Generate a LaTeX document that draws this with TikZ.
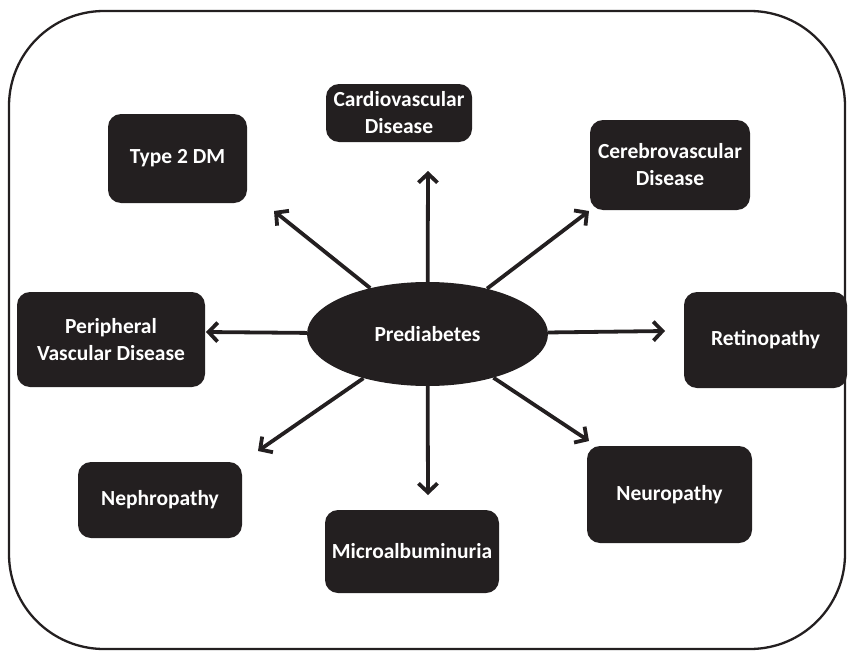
\documentclass[tikz,border=0pt]{standalone}
\usepackage{fontspec}
\setmainfont{Carlito}
\usetikzlibrary{arrows.meta,shapes.geometric}
\definecolor{boxfill}{RGB}{35,31,32}
\begin{document}
\begin{tikzpicture}[x=1pt,y=-1pt,
  box/.style={draw=none,fill=boxfill,rounded corners=13pt,text=white,font=\fontsize{21.5}{27}\selectfont\bfseries,align=center,inner sep=0pt},
  arr/.style={draw=boxfill,line width=3.8pt,-{Straight Barb[length=9pt,width=19pt,line width=3.8pt]}},
  outer/.style={draw=boxfill,line width=2.3pt,rounded corners=95pt}]
\useasboundingbox (0,0) rectangle (849,653);
\draw[outer] (9,11) rectangle (845,649);
\node[box,minimum width=139pt,minimum height=89pt] (t2dm) at (177.5,158.5) {Type 2 DM};
\node[box,minimum width=146pt,minimum height=58pt] (cvd) at (399,113) {Cardiovascular\\Disease};
\node[box,minimum width=160pt,minimum height=90pt] (cbd) at (670,165) {Cerebrovascular\\Disease};
\node[box,minimum width=188pt,minimum height=95pt] (pvd) at (111,339.5) {Peripheral\\Vascular Disease};
\node[box,minimum width=163pt,minimum height=96pt] (ret) at (765.5,340) {Retinopathy};
\node[box,minimum width=164pt,minimum height=76pt] (nep) at (160,500) {Nephropathy};
\node[box,minimum width=174pt,minimum height=83pt] (mic) at (412,551.5) {Microalbuminuria};
\node[box,minimum width=165pt,minimum height=97pt] (neu) at (669.5,494.5) {Neuropathy};
\node[ellipse,fill=boxfill,text=white,font=\fontsize{21.5}{27}\selectfont\bfseries,minimum width=241pt,minimum height=104pt,inner sep=0pt] (pre) at (427.5,334) {Prediabetes};
\coordinate (a1) at (274,211);
\coordinate (a2) at (428,171);
\coordinate (a3) at (589,211);
\coordinate (a4) at (206,332);
\coordinate (a5) at (665,331);
\coordinate (a6) at (258,451);
\coordinate (a7) at (428,495);
\coordinate (a8) at (589,441);
\foreach \t in {a1,a2,a3,a4,a5,a6,a7,a8} \draw[arr] (pre) -- (\t);
\end{tikzpicture}
\end{document}
